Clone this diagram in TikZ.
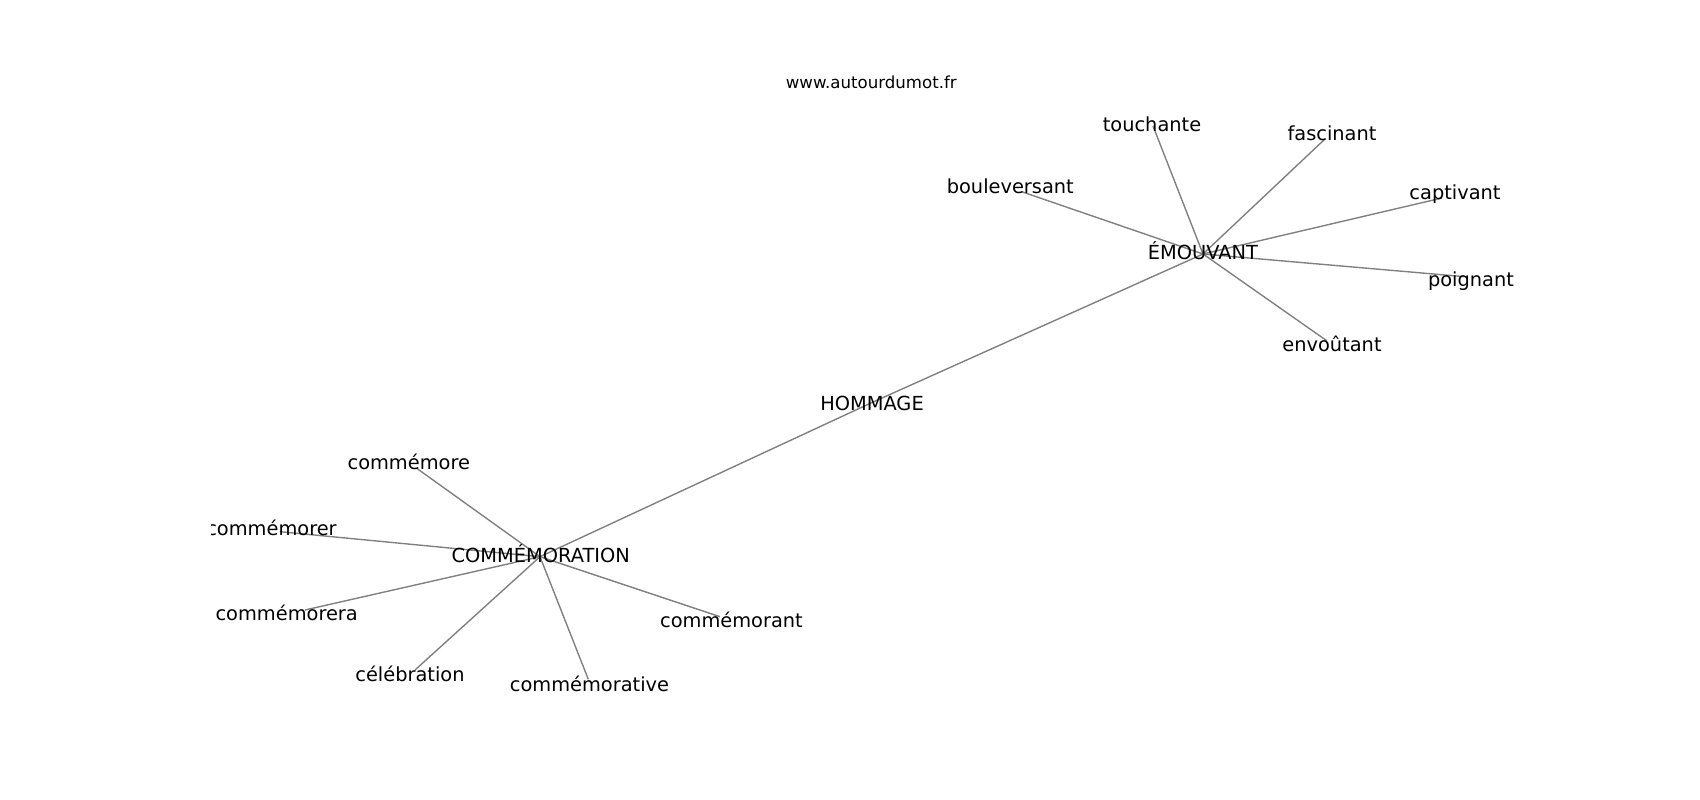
\documentclass[tikz,border=0pt]{standalone}
\usepackage{fontspec}
\setmainfont{DejaVu Sans}
\begin{document}
\begin{tikzpicture}[x=0.01in,y=-0.01in,
  lbl/.style={anchor=base,inner sep=0pt,outer sep=0pt,font=\fontsize{14}{17}\selectfont},
  urlstyle/.style={anchor=base,inner sep=0pt,outer sep=0pt,font=\fontsize{12}{14}\selectfont},
  edge/.style={draw=black!50,line width=1pt}]
\useasboundingbox (0,0) rectangle (1700,800);
\fill[white] (0,0) rectangle (1700,800);
\node[urlstyle] (url) at (871.3,88.8) {www.autourdumot.fr};
\begin{scope}
\clip (211,96) rectangle (1530,704);
% graph points
\coordinate (p-emouvant) at (1203,254);
\coordinate (p-commemoration) at (540,556.7);
\coordinate (p-hommage) at (872,402.5);
\coordinate (p-touchante) at (1153,126);
\coordinate (p-fascinant) at (1325,139);
\coordinate (p-bouleversant) at (1021.7,191.7);
\coordinate (p-captivant) at (1442,198);
\coordinate (p-poignant) at (1468,277);
\coordinate (p-envoutant) at (1326.7,340.7);
\coordinate (p-commemore) at (416.7,468.3);
\coordinate (p-commemorer) at (280,531.7);
\coordinate (p-commemorera) at (305,610);
\coordinate (p-commemorant) at (720,616.7);
\coordinate (p-celebration) at (415,670);
\coordinate (p-commemorative) at (588.3,679.3);
% edges
\draw[edge] (p-commemoration) -- (p-hommage);
\draw[edge] (p-hommage) -- (p-emouvant);
\foreach \t in {touchante,fascinant,bouleversant,captivant,poignant,envoutant}
  \draw[edge] (p-emouvant) -- (p-\t);
\foreach \t in {commemore,commemorer,commemorera,commemorant,celebration,commemorative}
  \draw[edge] (p-commemoration) -- (p-\t);
% labels
\node[lbl] (emouvant) at (1203,260) {ÉMOUVANT};
\node[lbl] (hommage) at (872,410.5) {HOMMAGE};
\node[lbl] (commemoration) at (540.7,562.5) {COMMÉMORATION};
\node[lbl] (touchante) at (1152,131.3) {touchante};
\node[lbl] (fascinant) at (1332,140.8) {fascinant};
\node[lbl] (bouleversant) at (1010.3,193.3) {bouleversant};
\node[lbl] (captivant) at (1455,199.3) {captivant};
\node[lbl] (poignant) at (1471,286.2) {poignant};
\node[lbl] (envoutant) at (1332,351.5) {envoûtant};
\node[lbl] (commemore) at (408.8,469.3) {commémore};
\node[lbl] (commemorer) at (271.5,535.5) {commémorer};
\node[lbl] (commemorera) at (286.7,620.5) {commémorera};
\node[lbl] (commemorant) at (731.5,627.8) {commémorant};
\node[lbl] (celebration) at (410,681.2) {célébration};
\node[lbl] (commemorative) at (589.5,691.2) {commémorative};
\end{scope}
\end{tikzpicture}
\end{document}
